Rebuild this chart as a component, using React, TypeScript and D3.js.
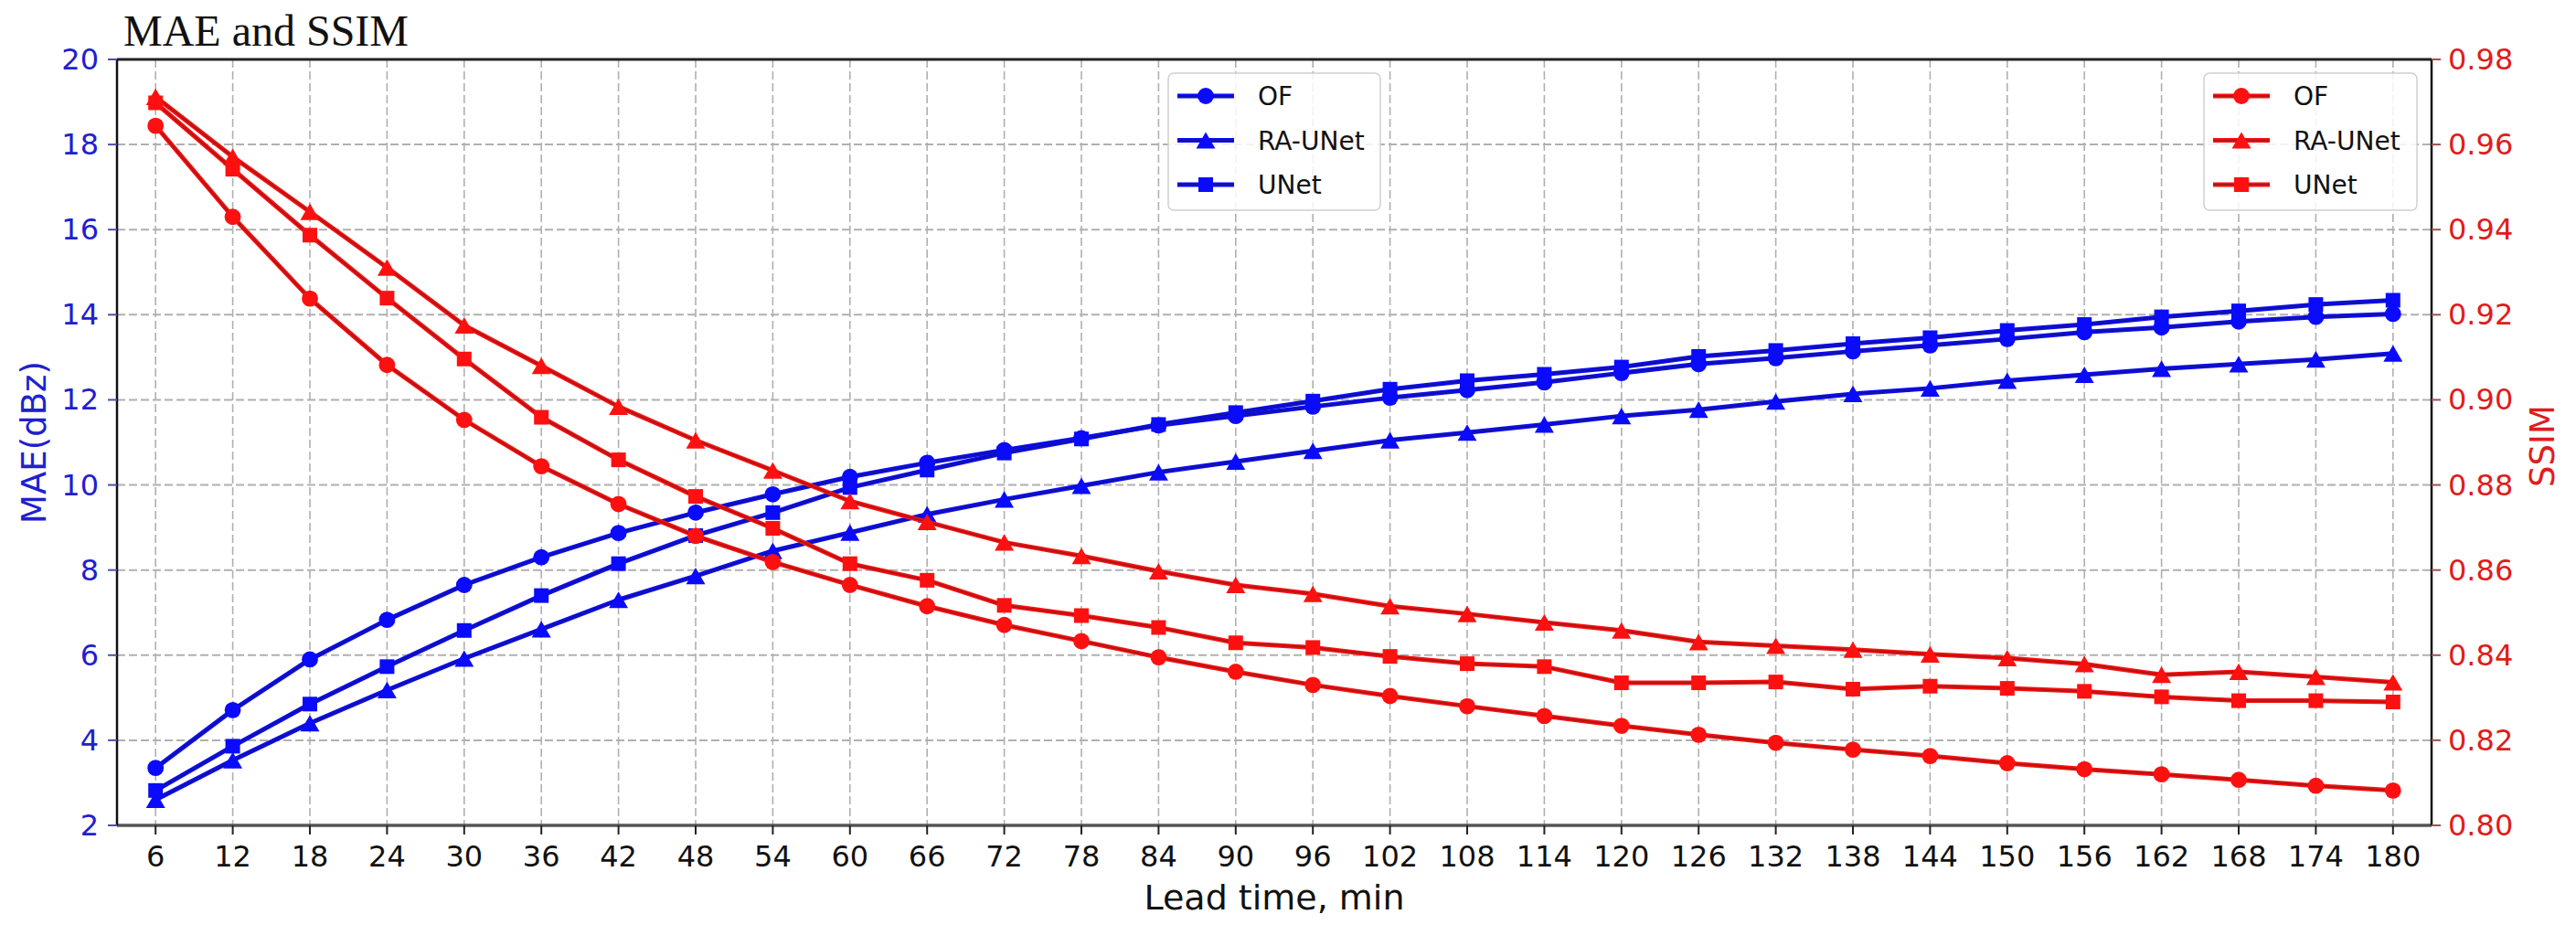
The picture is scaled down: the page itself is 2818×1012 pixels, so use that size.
import { useEffect, useRef } from 'react'
import * as d3 from 'd3'

const leadTimes = [6, 12, 18, 24, 30, 36, 42, 48, 54, 60, 66, 72, 78, 84, 90, 96, 102, 108, 114, 120, 126, 132, 138, 144, 150, 156, 162, 168, 174, 180]

const maeOF = [3.35, 4.71, 5.9, 6.83, 7.65, 8.3, 8.87, 9.35, 9.78, 10.19, 10.52, 10.82, 11.1, 11.4, 11.62, 11.84, 12.05, 12.23, 12.41, 12.63, 12.84, 12.98, 13.14, 13.28, 13.43, 13.59, 13.7, 13.84, 13.95, 14.02]
const maeRAUNet = [2.6, 3.53, 4.4, 5.18, 5.92, 6.61, 7.3, 7.86, 8.45, 8.88, 9.31, 9.66, 9.98, 10.3, 10.55, 10.8, 11.05, 11.23, 11.42, 11.62, 11.77, 11.96, 12.14, 12.27, 12.45, 12.59, 12.73, 12.84, 12.95, 13.09]
const maeUNet = [2.82, 3.86, 4.85, 5.73, 6.58, 7.4, 8.15, 8.81, 9.35, 9.94, 10.35, 10.75, 11.08, 11.42, 11.7, 11.97, 12.25, 12.45, 12.6, 12.77, 13.02, 13.16, 13.32, 13.46, 13.63, 13.77, 13.95, 14.09, 14.24, 14.34]

const ssimOF = [0.9644, 0.943, 0.9238, 0.9082, 0.8953, 0.8844, 0.8755, 0.868, 0.8619, 0.8565, 0.8515, 0.8471, 0.8433, 0.8395, 0.8361, 0.833, 0.8304, 0.828, 0.8257, 0.8234, 0.8213, 0.8194, 0.8178, 0.8163, 0.8146, 0.8132, 0.812, 0.8107, 0.8093, 0.8082]
const ssimRAUNet = [0.9712, 0.9571, 0.9442, 0.9311, 0.9175, 0.908, 0.8984, 0.8905, 0.8834, 0.8762, 0.8713, 0.8665, 0.8633, 0.8597, 0.8565, 0.8544, 0.8515, 0.8497, 0.8477, 0.8458, 0.8431, 0.8422, 0.8413, 0.8402, 0.8393, 0.8379, 0.8354, 0.8361, 0.8349, 0.8336]
const ssimUNet = [0.9698, 0.9542, 0.9387, 0.9239, 0.9096, 0.8959, 0.8859, 0.8773, 0.8698, 0.8615, 0.8576, 0.8517, 0.8493, 0.8465, 0.8429, 0.8418, 0.8397, 0.838, 0.8373, 0.8335, 0.8335, 0.8337, 0.832, 0.8327, 0.8322, 0.8315, 0.8302, 0.8293, 0.8293, 0.829]

const maeTicks = [2, 4, 6, 8, 10, 12, 14, 16, 18, 20]
const ssimTicks = [0.8, 0.82, 0.84, 0.86, 0.88, 0.9, 0.92, 0.94, 0.96, 0.98]
const seriesNames = ['OF', 'RA-UNet', 'UNet']
const markerTypes = [d3.symbolCircle, d3.symbolTriangle, d3.symbolSquare]

const W = 2818
const H = 1012
const FONT = 'DejaVu Sans, sans-serif'

export default function App() {
  const svgRef = useRef<SVGSVGElement>(null)

  useEffect(() => {
    if (!svgRef.current) return
    const svg = d3.select(svgRef.current)
    svg.selectAll('*').remove()

    const left = 128
    const right = 2660
    const top = 65
    const bottom = 903

    const x = d3.scaleLinear().domain([3, 183]).range([left, right])
    const yL = d3.scaleLinear().domain([2, 20]).range([bottom, top])
    const yR = d3.scaleLinear().domain([0.8, 0.98]).range([bottom, top])

    svg.append('rect').attr('width', W).attr('height', H).attr('fill', 'white')

    // grid
    const grid = svg.append('g')
    leadTimes.forEach(t => {
      grid.append('line')
        .attr('x1', x(t)).attr('x2', x(t))
        .attr('y1', top).attr('y2', bottom)
        .attr('stroke', '#b0b0b0').attr('stroke-width', 1.6)
        .attr('stroke-dasharray', '9,4')
    })
    maeTicks.forEach(v => {
      grid.append('line')
        .attr('x1', left).attr('x2', right)
        .attr('y1', yL(v)).attr('y2', yL(v))
        .attr('stroke', '#b0b0b0').attr('stroke-width', 2)
        .attr('stroke-dasharray', '9,4')
    })

    const symbolPath = (type: any, size: number) => d3.symbol().type(type).size(size)()
    const sizes = [250, 190, 256]
    const offsets = [0, 3, 0]

    const drawSeries = (values: number[], y: any, bright: string, dark: string, mi: number) => {
      const line = d3.line<number>().x((_, i) => x(leadTimes[i])).y(d => y(d))
      svg.append('path').attr('d', line(values)).attr('fill', 'none')
        .attr('stroke', bright).attr('stroke-width', 5).attr('stroke-linejoin', 'round')
      svg.append('path').attr('d', line(values)).attr('fill', 'none')
        .attr('stroke', dark).attr('stroke-width', 2.2).attr('stroke-linejoin', 'round')
      values.forEach((v, i) => {
        svg.append('path')
          .attr('d', symbolPath(markerTypes[mi], sizes[mi]))
          .attr('transform', `translate(${x(leadTimes[i])},${y(v) + offsets[mi]})`)
          .attr('fill', bright)
      })
    }

    const blue = '#0a0aff'
    const darkBlue = '#1212a8'
    const red = '#ff1010'
    const darkRed = '#b81414'

    const maeSeries = [maeOF, maeRAUNet, maeUNet]
    const ssimSeries = [ssimOF, ssimRAUNet, ssimUNet]
    maeSeries.forEach((s, i) => drawSeries(s, yL, blue, darkBlue, i))
    ssimSeries.forEach((s, i) => drawSeries(s, yR, red, darkRed, i))

    // spines
    svg.append('line').attr('x1', left).attr('x2', right).attr('y1', top).attr('y2', top)
      .attr('stroke', '#222').attr('stroke-width', 3)
    svg.append('line').attr('x1', left).attr('x2', right).attr('y1', bottom).attr('y2', bottom)
      .attr('stroke', '#555').attr('stroke-width', 3.5)
    svg.append('line').attr('x1', left).attr('x2', left).attr('y1', top).attr('y2', bottom)
      .attr('stroke', '#111').attr('stroke-width', 2.5)
    svg.append('line').attr('x1', right).attr('x2', right).attr('y1', top).attr('y2', bottom)
      .attr('stroke', '#111').attr('stroke-width', 2.5)

    // x axis
    const xAxis = svg.append('g')
    leadTimes.forEach(t => {
      xAxis.append('line').attr('x1', x(t)).attr('x2', x(t)).attr('y1', bottom).attr('y2', bottom + 10)
        .attr('stroke', '#222').attr('stroke-width', 2)
      xAxis.append('text').attr('x', x(t)).attr('y', bottom + 45)
        .attr('text-anchor', 'middle').attr('font-family', FONT).attr('font-size', 32)
        .attr('fill', '#111').text(t)
    })
    svg.append('text').attr('x', (left + right) / 2).attr('y', 995)
      .attr('text-anchor', 'middle').attr('font-family', FONT).attr('font-size', 38)
      .attr('fill', '#111').text('Lead time, min')

    // left axis
    const labelBlue = '#2020d0'
    maeTicks.forEach(v => {
      svg.append('line').attr('x1', left - 10).attr('x2', left).attr('y1', yL(v)).attr('y2', yL(v))
        .attr('stroke', '#5050a0').attr('stroke-width', 2)
      svg.append('text').attr('x', left - 20).attr('y', yL(v) + 11)
        .attr('text-anchor', 'end').attr('font-family', FONT).attr('font-size', 32)
        .attr('fill', labelBlue).text(v)
    })
    svg.append('text')
      .attr('transform', `translate(50,${(top + bottom) / 2}) rotate(-90)`)
      .attr('text-anchor', 'middle').attr('font-family', FONT).attr('font-size', 37)
      .attr('fill', labelBlue).text('MAE(dBz)')

    // right axis
    const labelRed = '#e01c1c'
    ssimTicks.forEach(v => {
      svg.append('line').attr('x1', right).attr('x2', right + 10).attr('y1', yR(v)).attr('y2', yR(v))
        .attr('stroke', '#a05050').attr('stroke-width', 2)
      svg.append('text').attr('x', right + 18).attr('y', yR(v) + 11)
        .attr('text-anchor', 'start').attr('font-family', FONT).attr('font-size', 32)
        .attr('fill', labelRed).text(v.toFixed(2))
    })
    svg.append('text')
      .attr('transform', `translate(2794,${(top + bottom) / 2 + 4}) rotate(-90)`)
      .attr('text-anchor', 'middle').attr('font-family', FONT).attr('font-size', 37)
      .attr('fill', labelRed).text('SSIM')

    // title
    svg.append('text').attr('x', 135).attr('y', 50)
      .attr('font-family', 'Liberation Serif, Times New Roman, serif').attr('font-size', 48)
      .attr('fill', '#111').text('MAE and SSIM')

    // legends
    const drawLegend = (x0: number, w: number, bright: string, dark: string) => {
      const g = svg.append('g')
      g.append('rect').attr('x', x0).attr('y', 80).attr('width', w).attr('height', 150)
        .attr('rx', 6).attr('fill', 'white').attr('fill-opacity', 0.85)
        .attr('stroke', '#d0d0d0').attr('stroke-width', 1.5)
      seriesNames.forEach((name, i) => {
        const cy = 105 + i * 48.5
        g.append('line').attr('x1', x0 + 10).attr('x2', x0 + 72).attr('y1', cy).attr('y2', cy)
          .attr('stroke', bright).attr('stroke-width', 5)
        g.append('line').attr('x1', x0 + 10).attr('x2', x0 + 72).attr('y1', cy).attr('y2', cy)
          .attr('stroke', dark).attr('stroke-width', 2.2)
        g.append('path').attr('d', symbolPath(markerTypes[i], sizes[i]))
          .attr('transform', `translate(${x0 + 41},${cy + offsets[i]})`)
          .attr('fill', bright)
        g.append('text').attr('x', x0 + 98).attr('y', cy + 10)
          .attr('font-family', FONT).attr('font-size', 28).attr('fill', '#111').text(name)
      })
    }
    drawLegend(1278, 232, blue, darkBlue)
    drawLegend(2411, 233, red, darkRed)
  }, [])

  return (
    <div style={{ position: 'absolute', left: 0, top: 0 }}>
      <svg ref={svgRef} width={W} height={H} style={{ display: 'block' }} />
    </div>
  )
}
